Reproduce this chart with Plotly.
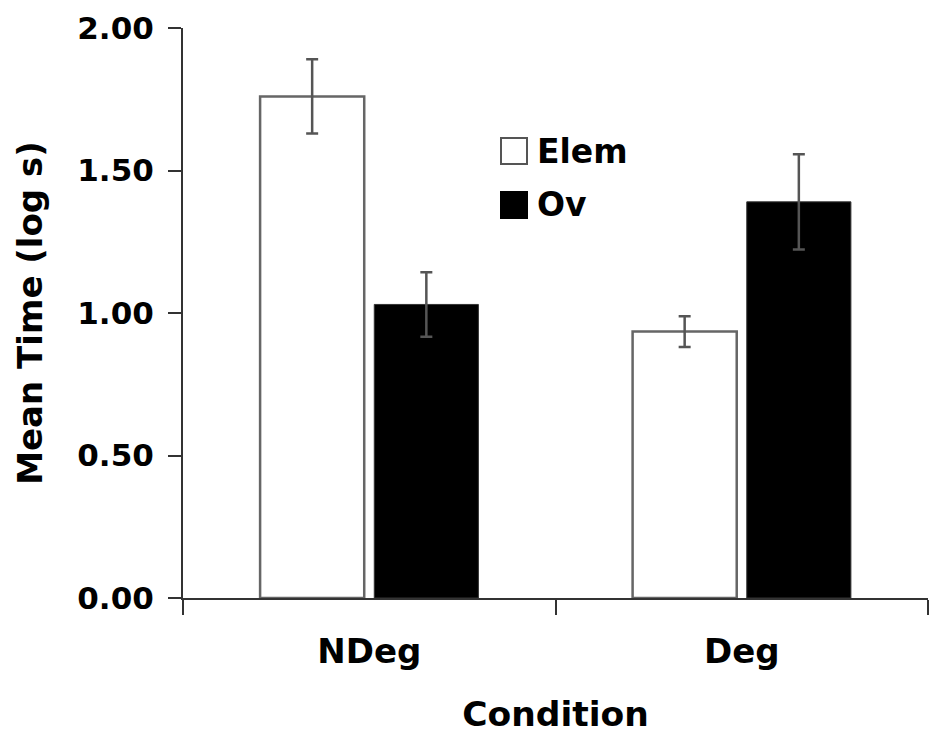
import plotly.graph_objects as go

conditions = ["NDeg", "Deg"]
series_names = ["Elem", "Ov"]
elem_values = [1.76, 0.935]
elem_errors = [0.13, 0.054]
ov_values = [1.03, 1.39]
ov_errors = [0.113, 0.167]
y_ticks = [0.0, 0.5, 1.0, 1.5, 2.0]

W, H = 929, 747
ML, MR, MT, MB = 183, 1, 28, 149
PW, PH = W - ML - MR, H - MT - MB

def px_x(px):
    return (px - ML) / PW

def px_y(py):
    return (H - MB - py) / PH

FONT = "DejaVu Sans, Liberation Sans, Arial, sans-serif"
ERR_COLOR = "#555555"

fig = go.Figure()
fig.add_trace(go.Bar(
    x=conditions, y=elem_values, name=series_names[0],
    marker=dict(color="white", line=dict(color="#666666", width=2.5)),
    error_y=dict(type="data", array=elem_errors, visible=True,
                 color=ERR_COLOR, thickness=2.5, width=6),
    showlegend=False,
))
fig.add_trace(go.Bar(
    x=conditions, y=ov_values, name=series_names[1],
    marker=dict(color="black", line=dict(color="#333333", width=1)),
    error_y=dict(type="data", array=ov_errors, visible=True,
                 color=ERR_COLOR, thickness=2.5, width=6),
    showlegend=False,
))

# legend drawn as squares + text labels
legend_items = [(series_names[0], "white", "#555555", 151),
                (series_names[1], "black", "black", 205)]
for name, fill, edge, cy in legend_items:
    fig.add_shape(type="rect", xref="paper", yref="paper",
                  x0=px_x(501), x1=px_x(527), y0=px_y(cy + 13), y1=px_y(cy - 13),
                  fillcolor=fill, line=dict(color=edge, width=2))
    fig.add_annotation(x=px_x(535), y=px_y(cy), xref="paper", yref="paper",
                       text=f"<b>{name}</b>", showarrow=False,
                       xanchor="left", yanchor="middle",
                       font=dict(family=FONT, size=33, color="black"))

fig.update_layout(
    width=W, height=H,
    margin=dict(l=ML, r=MR, t=MT, b=MB, autoexpand=False),
    paper_bgcolor="white", plot_bgcolor="white",
    barmode="group", bargap=0.387, bargroupgap=0.088,
    font=dict(family=FONT, size=33, color="black"),
    showlegend=False,
)
fig.update_xaxes(
    showline=True, linecolor="#333333", linewidth=2,
    ticks="outside", tickson="boundaries", ticklen=15, tickwidth=2, tickcolor="#333333",
    ticklabelstandoff=22,
    tickfont=dict(family=FONT, size=34, color="black"),
    title=dict(text="<b>Condition</b>", font=dict(family=FONT, size=34.5, color="black"), standoff=32),
    showgrid=False, zeroline=False, automargin=False,
    tickvals=conditions, ticktext=[f"<b>{c}</b>" for c in conditions],
)
fig.update_yaxes(
    range=[0, 2.0], tickvals=y_ticks, ticktext=[f"<b>{v:.2f}</b>" for v in y_ticks],
    showline=True, linecolor="#333333", linewidth=2,
    ticks="outside", ticklen=13, tickwidth=2, tickcolor="#333333",
    ticklabelstandoff=8,
    tickfont=dict(family=FONT, size=31, color="black"),
    title=dict(text="<b>Mean Time (log s)</b>", font=dict(family=FONT, size=34, color="black"), standoff=24),
    showgrid=False, zeroline=False, automargin=False,
)

fig.write_html("out.html",
               config={"displayModeBar": False},
               post_script="document.body.style.margin='0';document.body.style.overflow='hidden';")
